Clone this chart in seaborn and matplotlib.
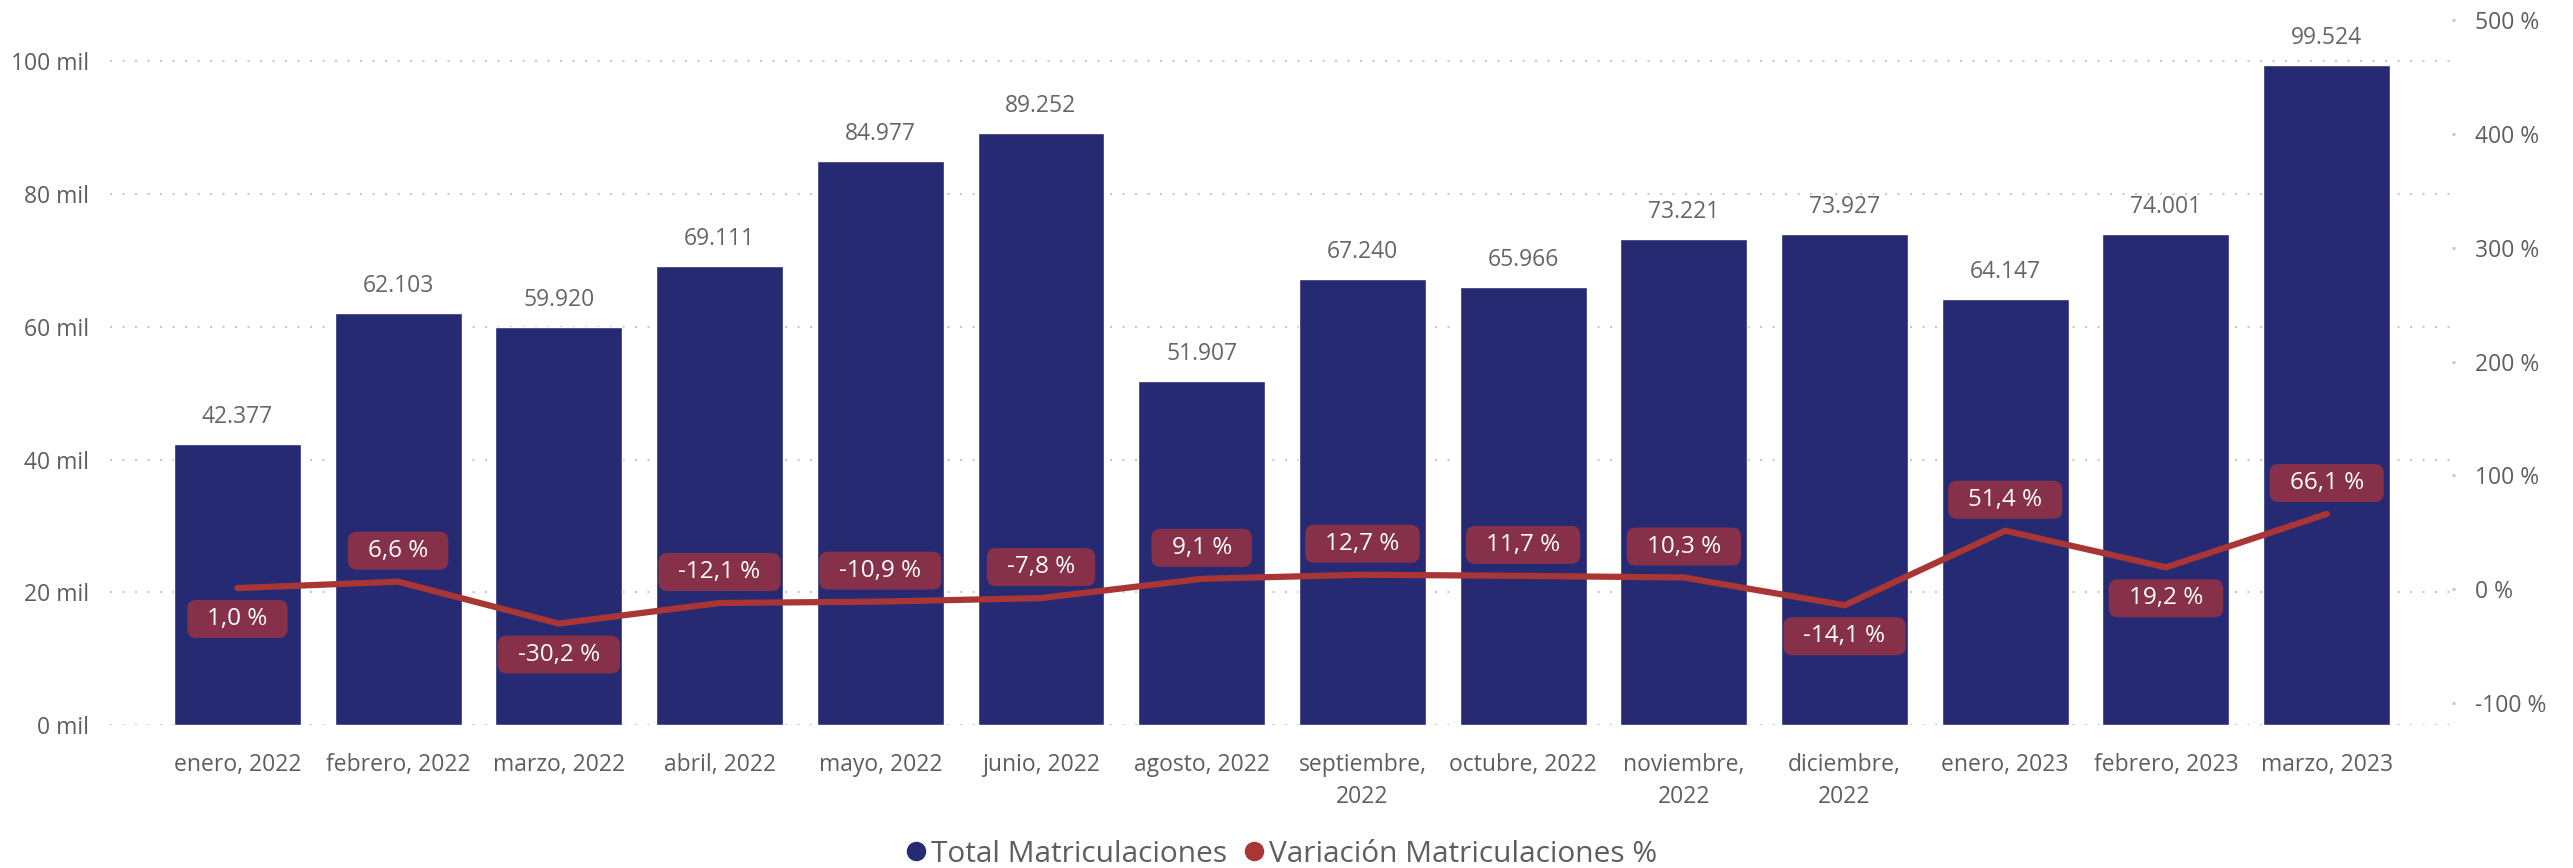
import numpy as np
import pandas as pd
import matplotlib
matplotlib.use("Agg")
import matplotlib.pyplot as plt
import seaborn as sns
from matplotlib.patches import BoxStyle
from matplotlib.lines import Line2D

# ---- data ----
months = ["enero, 2022", "febrero, 2022", "marzo, 2022", "abril, 2022", "mayo, 2022",
          "junio, 2022", "agosto, 2022", "septiembre,\n2022", "octubre, 2022",
          "noviembre,\n2022", "diciembre,\n2022", "enero, 2023", "febrero, 2023",
          "marzo, 2023"]
total = [42377, 62103, 59920, 69111, 84977, 89252, 51907, 67240, 65966, 73221,
         73927, 64147, 74001, 99524]
variacion = [1.0, 6.6, -30.2, -12.1, -10.9, -7.8, 9.1, 12.7, 11.7, 10.3, -14.1,
             51.4, 19.2, 66.1]
label_side = ["below", "above", "below", "above", "above", "above", "above", "above",
              "above", "above", "below", "above", "below", "above"]
left_ticks = [0, 20000, 40000, 60000, 80000, 100000]
left_ticklabels = ["0 mil", "20 mil", "40 mil", "60 mil", "80 mil", "100 mil"]
right_ticks = [-100, 0, 100, 200, 300, 400, 500]
right_ticklabels = ["-100 %", "0 %", "100 %", "200 %", "300 %", "400 %", "500 %"]

BAR = "#252A72"
LINE = "#A93535"
BOX = "#87304A"
GRAY = "#605E5C"

sns.set_theme(style="white")
plt.rcParams["font.family"] = ["Open Sans", "DejaVu Sans"]

W, H = 2573, 868
fig = plt.figure(figsize=(W / 100, H / 100), dpi=100)
x0, x1, ytop, ybot = 110, 2452, 15, 725
ax = fig.add_axes([x0 / W, 1 - ybot / H, (x1 - x0) / W, (ybot - ytop) / H])

df = pd.DataFrame({"mes": months, "total": total, "var": variacion,
                   "pos": np.arange(len(months))})

sns.barplot(data=df, x="mes", y="total", color=BAR, saturation=1, width=0.79,
            ax=ax, zorder=2)
ax.set_xlim(-0.793, 13.78)
px_per_unit = (725 - 61.5) / 100000
ax.set_ylim(0, (ybot - ytop) / px_per_unit)
ax.set_yticks(left_ticks)
ax.set_yticklabels(left_ticklabels)
ax.set_xlabel("")
ax.set_ylabel("")
for s in ax.spines.values():
    s.set_visible(False)
ax.yaxis.grid(True, color="#C8C8C8", linestyle=(0, (1, 5)), linewidth=1.5, zorder=0)
ax.set_axisbelow(True)
ax.tick_params(axis="y", length=0, pad=15, labelsize=16.5, labelcolor=GRAY)
ax.tick_params(axis="x", length=0, pad=20, labelsize=16.5, labelcolor=GRAY)
for t in ax.get_xticklabels():
    t.set_linespacing(1.45)

for i, v in enumerate(total):
    ax.annotate(f"{v:,}".replace(",", "."), (i, v), xytext=(0, 19.5),
                textcoords="offset points", ha="center", va="center",
                fontsize=16.5, color="#666666")

ax2 = ax.twinx()
pct_px = 1.1383
zero_y = 589.2
ax2.set_ylim((zero_y - ybot) / pct_px, (zero_y - ytop) / pct_px)
sns.lineplot(data=df, x="pos", y="var", color=LINE, linewidth=4.5, ax=ax2,
             solid_capstyle="round", solid_joinstyle="round", zorder=3)
ax2.set_xlim(-0.793, 13.78)
ax2.set_yticks(right_ticks)
ax2.set_yticklabels(right_ticklabels)
ax2.set_xlabel("")
ax2.set_ylabel("")
for s in ax2.spines.values():
    s.set_visible(False)
ax2.grid(False)
ax2.tick_params(axis="y", length=2.5, width=2, color="#C8C8C8", pad=14,
                labelsize=16.5, labelcolor=GRAY, right=True)


def pill(x0_, y0_, w_, h_, mutation_size):
    cx = x0_ + w_ / 2
    cy = y0_ + h_ / 2
    nw = w_ + 40
    nh = 38
    return BoxStyle.Round(pad=0, rounding_size=9.0 / mutation_size)(
        cx - nw / 2, cy - nh / 2, nw, nh, mutation_size)


for i, (v, side) in enumerate(zip(variacion, label_side)):
    off = 22.3 if side == "above" else -22.3
    txt = f"{v:.1f} %".replace(".", ",")
    ax2.annotate(txt, (i, v), xytext=(0, off), textcoords="offset points",
                 ha="center", va="center", fontsize=17.5, color="white", zorder=6,
                 bbox=dict(boxstyle=pill, fc=BOX, ec="none"))

handles = [Line2D([], [], marker="o", linestyle="none", markersize=13,
                  markerfacecolor=BAR, markeredgecolor=BAR),
           Line2D([], [], marker="o", linestyle="none", markersize=13,
                  markerfacecolor=LINE, markeredgecolor=LINE)]
leg = fig.legend(handles, ["Total Matriculaciones", "Variación Matriculaciones %"],
                 loc="center", bbox_to_anchor=(0.497, 1 - 854 / H), ncol=2,
                 frameon=False, fontsize=21.5, handletextpad=0.0, columnspacing=0.4,
                 handlelength=1.0, borderaxespad=0)
for t in leg.get_texts():
    t.set_color(GRAY)

fig.savefig("out.png", dpi=100)
